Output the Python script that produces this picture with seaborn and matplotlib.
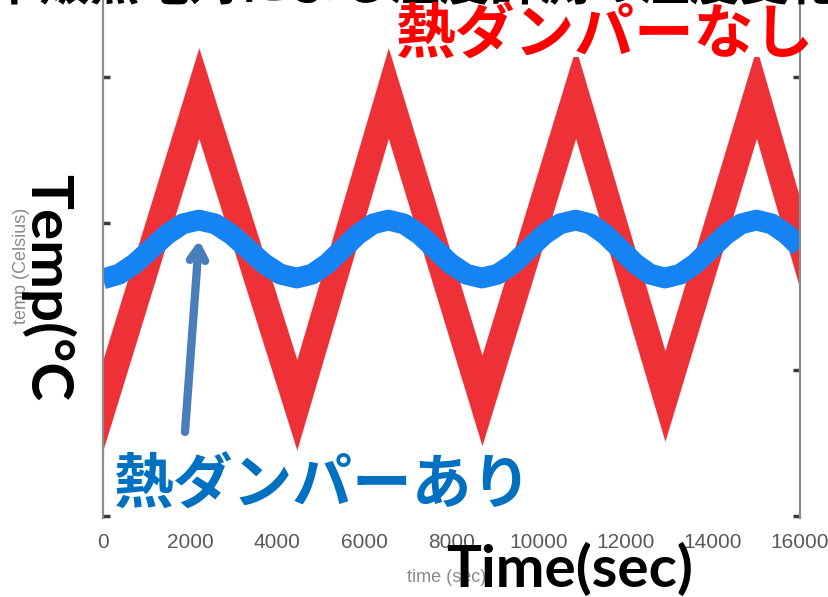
import numpy as np
import pandas as pd
import matplotlib
matplotlib.use("Agg")
import matplotlib.pyplot as plt
import matplotlib.patheffects as pe
from matplotlib.patches import Rectangle
import seaborn as sns

# Without damper: triangle-wave temperature (band centre at turning points) and band half-width
red_time = [0, 2200, 4450, 6550, 8700, 10850, 12900, 15000, 16000]
red_temp = [13.8, 24.45, 13.8, 24.45, 13.95, 24.45, 14.1, 24.45, 19.3]
red_half = 1.55

# With damper: smooth oscillation
blue_time = [0, 370, 730, 1100, 1470, 1830, 2200,
             2575, 2950, 3325, 3700, 4075, 4450,
             4800, 5150, 5500, 5850, 6200, 6550,
             6910, 7270, 7625, 7980, 8340, 8700,
             9060, 9420, 9775, 10130, 10490, 10850,
             11190, 11530, 11875, 12220, 12560, 12900,
             13250, 13600, 13950, 14300, 14650, 15000,
             15350, 15700, 16000]
blue_temp = [18.10, 18.26, 18.62, 19.12, 19.62, 19.98, 20.11,
             19.98, 19.62, 19.12, 18.62, 18.26, 18.13,
             18.26, 18.62, 19.12, 19.62, 19.98, 20.11,
             19.98, 19.62, 19.12, 18.62, 18.26, 18.13,
             18.26, 18.62, 19.12, 19.62, 19.98, 20.11,
             19.98, 19.62, 19.12, 18.62, 18.26, 18.13,
             18.26, 18.62, 19.12, 19.62, 19.98, 20.11,
             19.98, 19.62, 19.18]

x_ticks = [0, 2000, 4000, 6000, 8000, 10000, 12000, 14000, 16000]
y_ticks = [10, 15, 20, 25]

sns.set_style("white")
plt.rcParams["font.family"] = ["Noto Sans CJK JP", "DejaVu Sans"]

fig = plt.figure(figsize=(8.29, 5.97), dpi=100)
ax = fig.add_axes([103 / 829, 79 / 597, 697 / 829, 518 / 597])

red_df = pd.DataFrame({"time": red_time, "temp": red_temp})
blue_df = pd.DataFrame({"time": blue_time, "temp": blue_temp})

red_c = "#EE3136"
blue_c = "#1584F2"

ax.fill_between(red_df["time"], red_df["temp"] - red_half, red_df["temp"] + red_half,
                color=red_c, linewidth=0, zorder=2)
sns.lineplot(data=blue_df, x="time", y="temp", ax=ax, color=blue_c,
             linewidth=15, solid_capstyle="butt", zorder=3, legend=False)

ax.set_xlim(0, 16000)
ax.set_ylim(9.93, 27.63)
ax.set_xticks(x_ticks)
ax.set_xticklabels([str(v) for v in x_ticks], family="Liberation Sans",
                   fontsize=15, color="#5a5a5a")
ax.set_yticks(y_ticks)
ax.set_yticklabels([])
ax.tick_params(axis="x", length=0, pad=11)
ax.tick_params(axis="y", direction="in", length=5, width=2.5, color="#3a3a3a",
               left=True, right=True)
ax.set_xlabel("")
ax.set_ylabel("")
for side in ("top", "bottom"):
    ax.spines[side].set_visible(False)
for side in ("left", "right"):
    ax.spines[side].set_visible(True)
    ax.spines[side].set_color("#8c8c8c")
    ax.spines[side].set_linewidth(1.6)
    ax.spines[side].set_zorder(7)

# arrow pointing at the damped curve
ax.annotate("", xy=(2204, 19.43), xytext=(1882, 12.87),
            arrowprops=dict(arrowstyle="->,head_length=0.9,head_width=0.55",
                            color="#4A7EBB", lw=6, capstyle="round",
                            joinstyle="round", shrinkA=0, shrinkB=0),
            zorder=4)

# small original axis captions
fig.text(447 / 829, 1 - 577 / 597, "time (sec)", family="Liberation Sans",
         fontsize=13, color="#8a8a8a", ha="center", va="center")
fig.text(22 / 829, 1 - 266 / 597, "temp (Celsius)", family="Liberation Sans",
         fontsize=13, color="#8a8a8a", ha="center", va="center", rotation=90)

# large axis captions
fig.text(570 / 829, 1 - 587 / 597, "Time(sec)", family="Lato", fontweight="bold",
         fontsize=42, color="black", ha="center", va="baseline")
fig.text(48 / 829, 1 - 287 / 597, "Temp(°C", family="Lato", fontweight="bold",
         fontsize=42, color="black", ha="center", va="center", rotation=270)

# heading line running off the top edge: only a thin strip of it shows,
# so it lives in a slim clipping axes along the top of the figure
head_ax = fig.add_axes([0, 1 - 10 / 597, 1, 10 / 597], zorder=9)
head_ax.axis("off")
head_ax.text(0.5, 1.0, "市販熱電対による温度計測の温度変化", transform=head_ax.transAxes,
             fontsize=36, fontweight="bold", color="black", ha="center",
             va="baseline", clip_on=True, path_effects=[pe.Normal()])

# label for the undamped curve on a white panel
fig.add_artist(Rectangle((395 / 829, 1 - 57 / 597), 401 / 829, 45 / 597,
                         transform=fig.transFigure, facecolor="white",
                         edgecolor="none", zorder=5))
fig.text(604 / 829, 1 - 37 / 597, "熱ダンパーなし", fontsize=43,
         fontweight="bold", color="#FF0000", ha="center", va="center", zorder=10)
fig.text(322 / 829, 1 - 487 / 597, "熱ダンパーあり", fontsize=43,
         fontweight="bold", color="#0070C0", ha="center", va="center", zorder=10)

fig.savefig("out.png", dpi=100)
